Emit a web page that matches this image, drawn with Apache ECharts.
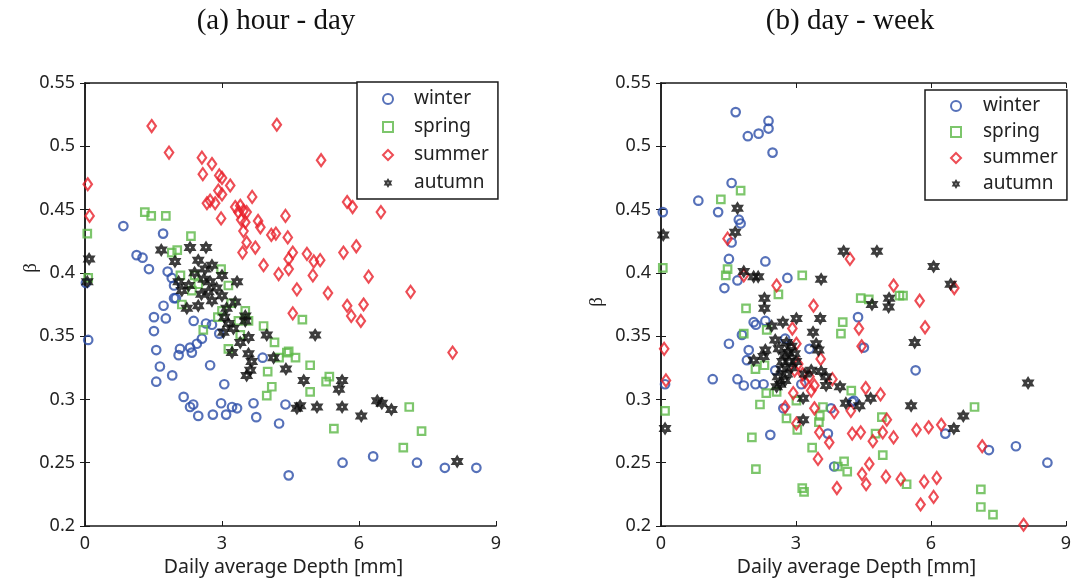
<!DOCTYPE html>
<html>
<head>
<meta charset="utf-8">
<script src="https://cdn.jsdelivr.net/npm/echarts@6/dist/echarts.min.js"></script>
<style>
  html, body { margin: 0; padding: 0; background: #fff; }
  #chart { width: 1074px; height: 583px; }
</style>
</head>
<body>
<div id="chart"></div>
<script>
// Scaling exponent beta vs. daily average depth, per season.
// Panel (a): hour - day ; panel (b): day - week.

const xTicks = [0, 3, 6, 9];
const yTicks = [0.2, 0.25, 0.3, 0.35, 0.4, 0.45, 0.5, 0.55];
const seasons = ['winter', 'spring', 'summer', 'autumn'];

// ---- (a) hour - day ----
const hdWinter = [
  [0.02,0.392],[0.07,0.347],[0.84,0.437],[1.13,0.414],[1.26,0.412],[1.40,0.403],[1.71,0.431],[1.81,0.401],
  [1.90,0.396],[1.95,0.390],[1.95,0.380],[1.72,0.374],[1.51,0.365],[1.77,0.364],[1.51,0.354],[1.99,0.380],
  [2.38,0.362],[2.65,0.360],[2.78,0.359],[2.56,0.348],[2.45,0.344],[2.30,0.341],[2.08,0.340],[2.05,0.335],
  [2.34,0.337],[1.56,0.339],[1.64,0.326],[1.56,0.314],[1.91,0.319],[2.74,0.327],[2.94,0.352],[3.05,0.312],
  [2.16,0.302],[2.30,0.294],[2.37,0.296],[2.48,0.287],[2.80,0.288],[2.98,0.297],[3.09,0.288],[3.22,0.294],
  [3.33,0.293],[3.69,0.297],[3.75,0.286],[3.89,0.333],[4.25,0.281],[4.39,0.296],[4.46,0.240],[5.64,0.250],
  [6.31,0.255],[7.27,0.250],[7.88,0.246],[8.57,0.246]
];
const hdSpring = [
  [0.05,0.431],[0.07,0.396],[1.31,0.448],[1.45,0.445],[1.77,0.445],[2.32,0.429],[2.02,0.418],[1.90,0.416],
  [2.09,0.398],[2.40,0.398],[2.48,0.391],[2.34,0.386],[2.98,0.403],[3.14,0.390],[2.12,0.375],[2.59,0.355],
  [2.91,0.365],[3.00,0.370],[3.20,0.376],[3.51,0.370],[3.58,0.362],[3.36,0.362],[3.40,0.351],[3.14,0.340],
  [3.91,0.358],[4.15,0.345],[4.42,0.337],[4.25,0.333],[4.00,0.322],[4.09,0.310],[3.98,0.303],[4.76,0.363],
  [4.46,0.338],[4.61,0.333],[4.93,0.327],[5.35,0.318],[5.28,0.314],[4.93,0.306],[5.45,0.277],[7.10,0.294],
  [7.37,0.275],[6.97,0.262]
];
const hdSummer = [
  [0.06,0.470],[0.10,0.445],[1.46,0.516],[1.84,0.495],[2.56,0.491],[2.78,0.486],[2.58,0.478],[2.94,0.477],
  [3.00,0.475],[3.18,0.469],[2.92,0.465],[3.00,0.462],[2.74,0.457],[2.67,0.455],[2.85,0.455],[3.66,0.460],
  [3.29,0.452],[3.40,0.453],[3.47,0.449],[3.54,0.448],[3.36,0.448],[3.42,0.442],[3.51,0.440],[2.98,0.443],
  [3.79,0.441],[3.84,0.436],[3.47,0.433],[3.54,0.424],[3.45,0.416],[3.73,0.420],[3.91,0.406],[4.08,0.430],
  [4.18,0.431],[4.39,0.445],[4.44,0.428],[4.46,0.411],[4.24,0.399],[4.46,0.403],[4.20,0.517],[5.17,0.489],
  [5.74,0.456],[5.86,0.452],[6.48,0.448],[4.55,0.416],[4.86,0.415],[5.01,0.409],[5.15,0.410],[5.66,0.416],
  [5.94,0.421],[4.99,0.398],[6.21,0.397],[4.64,0.387],[5.32,0.384],[7.13,0.385],[5.74,0.374],[6.10,0.375],
  [4.55,0.368],[5.83,0.366],[6.04,0.362],[8.05,0.337]
];
const hdAutumn = [
  [0.09,0.411],[0.05,0.393],[1.67,0.418],[1.97,0.409],[2.30,0.420],[2.65,0.420],[2.48,0.410],[2.63,0.403],
  [2.78,0.406],[2.74,0.393],[3.00,0.398],[3.33,0.393],[2.05,0.393],[2.27,0.390],[2.12,0.386],[2.23,0.372],
  [2.48,0.374],[2.78,0.378],[3.00,0.382],[3.29,0.377],[3.51,0.366],[3.51,0.362],[3.14,0.360],[3.03,0.353],
  [3.58,0.349],[3.40,0.345],[3.22,0.337],[3.58,0.336],[3.65,0.330],[3.62,0.323],[3.54,0.319],[3.98,0.351],
  [4.13,0.333],[4.40,0.324],[5.04,0.351],[4.79,0.315],[4.64,0.293],[4.71,0.295],[5.08,0.294],[5.63,0.315],
  [5.56,0.308],[5.63,0.294],[6.05,0.287],[6.40,0.299],[6.50,0.297],[6.71,0.292],[8.15,0.251],
  [2.60,0.395],[2.70,0.385],[2.88,0.388],[3.10,0.372],[2.40,0.400],[2.55,0.383],[3.05,0.365],[3.25,0.356]
];

// ---- (b) day - week ----
const dwWinter = [
  [1.66,0.527],[1.93,0.508],[2.17,0.510],[2.39,0.514],[2.39,0.520],[2.48,0.495],[1.57,0.471],[0.83,0.457],
  [0.04,0.448],[1.27,0.448],[1.73,0.442],[1.77,0.439],[1.57,0.424],[1.51,0.411],[2.32,0.409],[1.70,0.394],
  [1.41,0.388],[2.81,0.396],[0.09,0.312],[1.15,0.316],[1.51,0.344],[2.06,0.361],[2.11,0.359],[4.38,0.365],
  [2.32,0.362],[2.76,0.348],[1.80,0.351],[1.95,0.339],[1.91,0.331],[3.30,0.340],[2.43,0.272],[3.85,0.247],
  [3.71,0.273],[4.25,0.298],[3.78,0.293],[1.70,0.316],[1.84,0.311],[2.10,0.312],[2.28,0.312],[2.54,0.323],
  [2.72,0.293],[3.12,0.312],[4.51,0.341],[5.66,0.323],[4.29,0.299],[6.32,0.273],[7.29,0.260],[7.89,0.263],
  [8.59,0.250]
];
const dwSpring = [
  [1.77,0.465],[1.33,0.458],[0.04,0.404],[1.48,0.403],[1.44,0.398],[3.14,0.398],[2.61,0.383],[4.44,0.380],
  [4.62,0.379],[5.30,0.382],[5.38,0.382],[0.09,0.291],[1.89,0.372],[1.84,0.352],[4.04,0.361],[4.00,0.352],
  [2.02,0.270],[2.11,0.245],[3.14,0.230],[3.18,0.227],[3.36,0.262],[3.53,0.287],[3.51,0.282],[3.03,0.276],
  [2.79,0.285],[2.20,0.296],[2.34,0.305],[2.57,0.306],[2.10,0.324],[2.30,0.327],[2.35,0.355],[3.93,0.247],
  [4.07,0.251],[4.14,0.243],[4.23,0.307],[3.60,0.294],[3.01,0.299],[4.91,0.286],[4.77,0.273],[4.93,0.256],
  [5.46,0.233],[6.97,0.294],[7.11,0.229],[7.11,0.215],[7.38,0.209]
];
const dwSummer = [
  [1.48,0.427],[2.57,0.390],[4.20,0.411],[3.39,0.374],[1.84,0.398],[5.17,0.390],[5.75,0.378],[6.52,0.388],
  [5.87,0.357],[4.40,0.356],[4.46,0.342],[4.55,0.309],[4.88,0.304],[5.02,0.284],[6.23,0.280],[5.95,0.278],
  [5.68,0.276],[4.44,0.274],[4.93,0.274],[4.71,0.267],[5.17,0.270],[7.14,0.263],[4.63,0.249],[4.47,0.241],
  [4.56,0.233],[5.00,0.239],[5.33,0.237],[5.85,0.235],[6.13,0.238],[5.77,0.217],[6.06,0.223],[8.06,0.201],
  [0.07,0.340],[0.11,0.315],[2.92,0.356],[2.94,0.305],[2.76,0.294],[3.01,0.281],[3.41,0.293],[3.52,0.274],
  [3.74,0.266],[3.49,0.253],[3.85,0.290],[3.91,0.230],[4.22,0.291],[4.25,0.273],[3.01,0.344],[3.55,0.332],
  [2.97,0.323],[3.20,0.314],[3.41,0.311],[3.34,0.307],[3.81,0.316],[3.05,0.328],[3.15,0.320],[3.30,0.318]
];
const dwAutumn = [
  [0.05,0.430],[1.70,0.451],[1.65,0.432],[1.84,0.401],[2.06,0.397],[2.16,0.397],[3.56,0.395],[4.06,0.417],
  [2.30,0.380],[2.30,0.372],[4.80,0.417],[6.06,0.405],[6.44,0.391],[4.69,0.375],[5.07,0.380],[5.06,0.373],
  [5.64,0.345],[8.16,0.313],[4.66,0.301],[4.41,0.295],[5.56,0.295],[6.72,0.287],[6.51,0.277],[0.09,0.277],
  [2.46,0.358],[2.71,0.361],[3.01,0.364],[3.54,0.364],[3.38,0.353],[2.06,0.331],[2.28,0.334],[2.32,0.339],
  [2.54,0.347],[2.79,0.345],[2.83,0.337],[2.97,0.336],[2.68,0.324],[2.65,0.312],[2.76,0.315],[2.57,0.310],
  [3.20,0.320],[3.34,0.323],[3.56,0.322],[3.67,0.318],[3.67,0.311],[3.98,0.310],[3.16,0.301],[3.16,0.284],
  [4.11,0.297],[3.50,0.339],[3.45,0.344],[2.70,0.330],[2.75,0.335],[2.85,0.330],[2.90,0.325],[2.60,0.318],
  [2.80,0.320],[3.00,0.330],[2.62,0.340],[2.90,0.342]
];

// six-pointed star with a small hole in the middle
const hexStar = 'path://M0,-10 L2.887,-5 L8.66,-5 L5.774,0 L8.66,5 L2.887,5 L0,10 L-2.887,5 L-8.66,5 L-5.774,0 L-8.66,-5 L-2.887,-5 Z ' +
                'M0,-1.4 L-1.2,-0.7 L-1.2,0.7 L0,1.4 L1.2,0.7 L1.2,-0.7 Z';

const seasonStyle = {
  winter: { symbol: 'circle',  symbolSize: 8.5,     itemStyle: { color: 'rgba(0,0,0,0)', borderColor: '#2c4ea8', borderWidth: 2.2 } },
  spring: { symbol: 'rect',    symbolSize: 7.5,     itemStyle: { color: 'rgba(0,0,0,0)', borderColor: '#5cb847', borderWidth: 2.2 } },
  summer: { symbol: 'diamond', symbolSize: [8.5, 12], itemStyle: { color: 'rgba(0,0,0,0)', borderColor: '#e8212a', borderWidth: 2.2 } },
  autumn: { symbol: hexStar,   symbolSize: [13, 14], itemStyle: { color: '#0d0d0d', borderWidth: 0 } }
};

// legend icon shapes, drawn in a small square so their aspect is kept
const legendIcons = {
  winter: 'circle', spring: 'rect', summer: 'diamond', autumn: hexStar
};

const panels = [
  { data: { winter: hdWinter, spring: hdSpring, summer: hdSummer, autumn: hdAutumn },
    grid: { left: 85, top: 83, width: 411, height: 443 },
    title: '(a) hour - day', titleX: 276, betaY: 268,
    legend: { left: 357, top: 82, pad: [7, 9, 6, 25], textPad: 16, itemGap: 8 } },
  { data: { winter: dwWinter, spring: dwSpring, summer: dwSummer, autumn: dwAutumn },
    grid: { left: 661, top: 83, width: 410, height: 443 },
    title: '(b) day - week', titleX: 850, betaY: 302,
    legend: { left: 925, top: 90, pad: [6, 9, 6, 25], textPad: 17, itemGap: 6 } }
];

const axisFont = { fontFamily: 'Noto Sans', fontSize: 18, color: '#222' };
const nameFont = { fontFamily: 'Noto Sans', fontSize: 19.5, color: '#222' };
const axisLine = { show: true, lineStyle: { color: '#1a1a1a', width: 1.5 } };
const tick = { inside: true, length: 5, lineStyle: { color: '#1a1a1a' } };

const option = {
  animation: false,
  backgroundColor: '#fff',
  grid: [], xAxis: [], yAxis: [], series: [], legend: [], graphic: []
};

panels.forEach((p, i) => {
  option.grid.push(p.grid);
  // bottom / left axes carry labels, top / right axes only close the box
  option.xAxis.push({
    gridIndex: i, type: 'value', min: 0, max: 9, interval: 3, position: 'bottom',
    axisLine, axisTick: tick,
    axisLabel: Object.assign({ margin: 9, formatter: v => xTicks.includes(v) ? String(v) : '' }, axisFont),
    splitLine: { show: false },
    name: 'Daily average Depth [mm]', nameLocation: 'middle', nameGap: 29,
    nameTextStyle: Object.assign({ padding: [0, 14, 0, 0] }, nameFont)
  });
  option.xAxis.push({
    gridIndex: i, type: 'value', min: 0, max: 9, interval: 3, position: 'top',
    axisLine, axisTick: tick, axisLabel: { show: false }, splitLine: { show: false }
  });
  option.yAxis.push({
    gridIndex: i, type: 'value', min: 0.2, max: 0.55, interval: 0.05, position: 'left',
    axisLine, axisTick: tick,
    axisLabel: Object.assign({ margin: 10, formatter: v => {
      const t = yTicks.find(y => Math.abs(y - v) < 1e-9);
      return t === undefined ? '' : String(t);
    } }, axisFont),
    splitLine: { show: false }
  });
  option.yAxis.push({
    gridIndex: i, type: 'value', min: 0.2, max: 0.55, interval: 0.05, position: 'right',
    axisLine, axisTick: tick, axisLabel: { show: false }, splitLine: { show: false }
  });

  seasons.forEach(s => {
    option.series.push(Object.assign({
      type: 'scatter', name: s, xAxisIndex: i * 2, yAxisIndex: i * 2,
      data: p.data[s], z: 2
    }, seasonStyle[s]));
  });

  option.legend.push({
    data: seasons.map(s => ({ name: s, icon: legendIcons[s] })),
    orient: 'vertical',
    left: p.legend.left, top: p.legend.top,
    padding: p.legend.pad, itemGap: p.legend.itemGap,
    itemWidth: 10, itemHeight: 10,
    backgroundColor: '#fff', borderColor: '#1a1a1a', borderWidth: 1.5,
    textStyle: { fontFamily: 'Noto Sans', fontSize: 19, color: '#222', lineHeight: 20,
                 padding: [0, 0, 0, p.legend.textPad] },
    selectedMode: false, z: 5
  });

  option.graphic.push({
    type: 'text', x: p.titleX, y: 21,
    style: { text: p.title, font: '29px "Liberation Serif"', fill: '#111', align: 'center', verticalAlign: 'middle' }
  });
  option.graphic.push({
    type: 'text', x: i === 0 ? 31 : 597, y: p.betaY, rotation: Math.PI / 2,
    style: { text: 'β', font: '19px "Liberation Serif"', fill: '#222', align: 'center', verticalAlign: 'middle' }
  });
});

const chart = echarts.init(document.getElementById('chart'), null, { renderer: 'canvas' });
chart.setOption(option);
</script>
</body>
</html>
